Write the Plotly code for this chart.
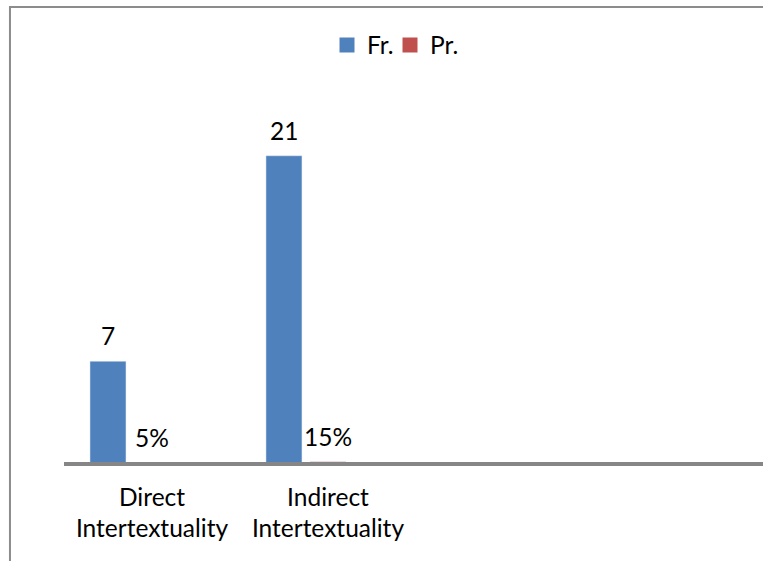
import plotly.graph_objects as go

categories = ["Direct<br>Intertextuality", "Indirect<br>Intertextuality"]
fr_values = [7, 21]
pr_values = [0.05, 0.15]
pr_labels = ["5%", "15%"]

BLUE = "#4F81BD"
RED = "#C0504D"
FONT = "Lato"
FS = 24.5

xpos = list(range(len(categories)))

fig = go.Figure()
fig.add_trace(go.Bar(
    name="Fr.", x=xpos, y=fr_values, marker_color=BLUE,
    width=0.2045, offset=-0.3523, showlegend=False,
))
fig.add_trace(go.Bar(
    name="Pr.", x=xpos, y=pr_values, marker_color=RED,
    width=0.2045, offset=-0.1023, showlegend=False,
))
# legend entries with square swatches
for name, col, lg in (("Fr.", BLUE, "legend"), ("Pr.", RED, "legend2")):
    fig.add_trace(go.Scatter(
        name=name, x=[None], y=[None], mode="markers", legend=lg,
        marker=dict(symbol="square", size=15, color=col), showlegend=True,
    ))

annotations = []
for xi, v in zip(xpos, fr_values):
    annotations.append(dict(x=xi - 0.25, y=v, xref="x", yref="y", text=str(v),
                            showarrow=False, yanchor="bottom", yshift=9,
                            font=dict(family=FONT, size=FS, color="black")))
for xi, v, t in zip(xpos, pr_values, pr_labels):
    annotations.append(dict(x=xi, y=v, xref="x", yref="y", text=t,
                            showarrow=False, yanchor="bottom", yshift=9,
                            font=dict(family=FONT, size=FS, color="black")))

shapes = [
    # outer chart border (cropped)
    dict(type="rect", xref="paper", yref="paper", x0=-0.0773, x1=1.05,
         y0=-0.5, y1=1.2219, line=dict(color="#8c8c8c", width=2),
         fillcolor="rgba(0,0,0,0)", layer="below"),
    # category axis line
    dict(type="line", xref="paper", yref="paper", x0=0, x1=1.01, y0=0, y1=0,
         line=dict(color="#868686", width=4), layer="above"),
]

legend_common = dict(orientation="h", xref="container", yref="container",
                     xanchor="left", yanchor="middle", itemclick=False,
                     font=dict(family=FONT, size=FS, color="black"),
                     bgcolor="rgba(0,0,0,0)")

fig.update_layout(
    width=763, height=561,
    margin=dict(l=64, r=0, t=90, b=97),
    paper_bgcolor="white", plot_bgcolor="white",
    barmode="group",
    font=dict(family=FONT, size=FS, color="black"),
    showlegend=True,
    legend=dict(x=327 / 763, y=1 - 45 / 561, **legend_common),
    legend2=dict(x=390 / 763, y=1 - 45 / 561, **legend_common),
    xaxis=dict(range=[-0.5, 3.472], tickmode="array", tickvals=xpos,
               ticktext=categories, showline=False, showgrid=False,
               zeroline=False, ticks="", ticklabelstandoff=16,
               tickfont=dict(family=FONT, size=FS, color="black")),
    yaxis=dict(range=[0, 25.48], showline=False, showgrid=False,
               zeroline=False, showticklabels=False, ticks=""),
    annotations=annotations,
    shapes=shapes,
)

fig.write_html("out.html")
